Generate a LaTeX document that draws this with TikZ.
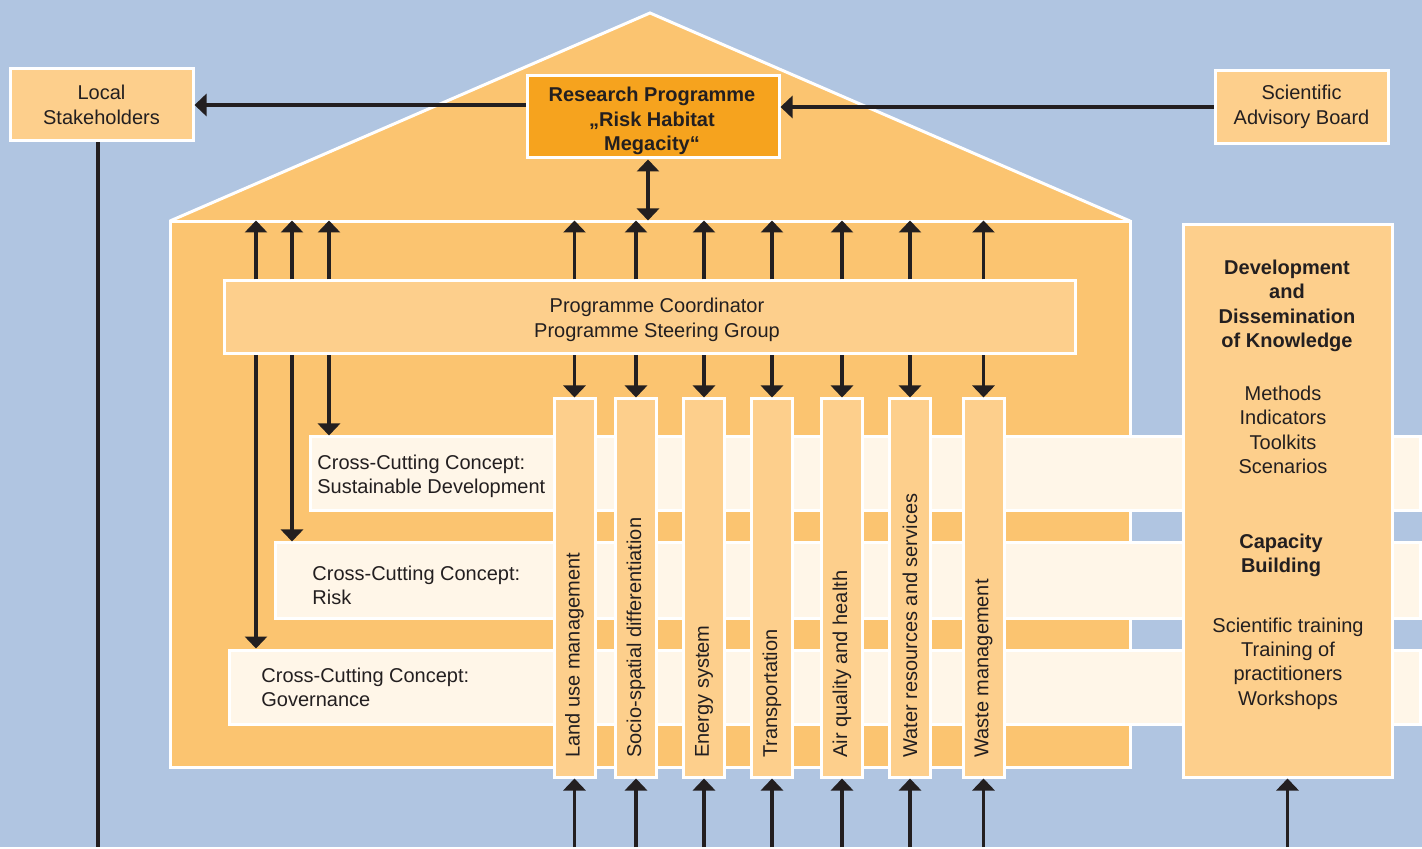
\documentclass[tikz,border=0pt]{standalone}
\usepackage{fontspec}
\setmainfont{Liberation Sans}
\usetikzlibrary{arrows.meta, positioning}
\definecolor{sky}{RGB}{176, 197, 225}
\definecolor{house}{RGB}{251, 196, 112}
\definecolor{panel}{RGB}{253, 207, 140}
\definecolor{headline}{RGB}{246, 163, 30}
\definecolor{band}{RGB}{255, 246, 232}
\definecolor{ink}{RGB}{35, 31, 32}

\begin{document}
\begin{tikzpicture}[x=0.5pt, y=-0.5pt,
            every node/.append style={font=\fontsize{10}{12.2}\selectfont, text=ink},
            heading/.style={font=\fontsize{10}{12.2}\selectfont\bfseries},
            whiteframe/.style={rectangle, draw=white, line width=1.5pt, inner sep=0pt},
            box/.style={whiteframe, fill=panel, align=center},
            crossband/.style={whiteframe, fill=band},
            pillar/.style={whiteframe, fill=panel, minimum width=20.5pt, minimum height=189pt},
            bandtext/.style={align=left, anchor=west, inner sep=0pt},
            arr/.style={-{Triangle[width=11pt,length=6pt]}, line width=1.6pt, draw=ink},
            dbl/.style={arr, {Triangle[width=11pt,length=6pt]}-{Triangle[width=11pt,length=6pt]}}
        ]
            \fill[sky] (0,0) rectangle (1422,847);
            \coordinate (floor) at (0,847);
            \coordinate (xl) at (98,0);
            \coordinate (xg) at (256,0);
            \coordinate (xr) at (292,0);
            \coordinate (xs) at (329,0);
            \coordinate (xm) at (648,0);

            \draw[white, line width=1.5pt, fill=house] (170,221) -- (650,13) -- (1130,221);
            \node[whiteframe, fill=house, minimum width=480pt, minimum height=272.5pt] (body) at (650,494.5) {};

            \node[box, fill=headline, minimum width=126pt, minimum height=41pt] (research) at (653,117) {};
            \node[heading, align=center] (research-t) at (652,121) {Research Programme\\„Risk Habitat\\Megacity“};
            \node[box, minimum width=91.5pt, minimum height=36pt] (local) at (101.5,105) {Local\\Stakeholders};
            \node[box, minimum width=86.5pt, minimum height=36.5pt] (board) at (1301.5,107) {Scientific\\Advisory Board};
            \node[box, minimum width=425.5pt, minimum height=36.5pt] (coord) at (649.5,317.5) {};
            \node[align=center] (coord-t) at (657,320) {Programme Coordinator\\Programme Steering Group};

            \draw[arr] (research.west |- local.east) -- (local.east);
            \draw[arr] (board.west) -- (research.east |- board.west);
            \draw[line width=1.6pt, ink] (local.south -| xl) -- (xl |- floor);
            \draw[dbl] (research.south -| xm) -- (body.north -| xm);

            \node[crossband, minimum width=555pt, minimum height=37pt] (sd) at (865,474) {};
            \node[crossband, minimum width=572.5pt, minimum height=37.5pt] (risk) at (847.5,580.5) {};
            \node[crossband, minimum width=595.5pt, minimum height=37pt] (gov) at (824.5,687) {};

            \node[bandtext] (sd-t) at (317,476.5) {Cross-Cutting Concept:\\Sustainable Development};
            \node[bandtext] (risk-t) at (312,585.5) {Cross-Cutting Concept:\\Risk};
            \node[bandtext] (gov-t) at (261,687.5) {Cross-Cutting Concept:\\Governance};

            \foreach \x/\b in {xg/gov, xr/risk, xs/sd} {
                \draw[arr] (coord.north -| \x) -- (body.north -| \x);
                \draw[arr] (coord.south -| \x) -- (\b.north -| \x);
            }

            \foreach \name/\x/\txt in {land/574.5/Land use management, socio/636/Socio-spatial differentiation, energy/704/Energy system, trans/772/Transportation, air/842/Air quality and health, water/910/Water resources and services, waste/983.5/Waste management} {
                \node[pillar] (\name) at (\x,588) {};
                \node[rotate=90, anchor=west, inner sep=0pt] (\name-t) at (\x,758) {\txt};
                \draw[arr] (coord.north -| \name) -- (body.north -| \name);
                \draw[arr] (coord.south -| \name) -- (\name.north);
                \draw[arr] (\name.south |- floor) -- (\name.south);
            }

            \node[box, minimum width=104.5pt, minimum height=276pt] (kb) at (1287.5,501) {};
            \node[heading, align=center] (kb-head) at (1287,306) {Development\\and\\Dissemination\\of Knowledge};
            \node[align=center] (kb-tools) at (1283,430) {Methods\\Indicators\\Toolkits\\Scenarios};
            \node[heading, align=center] (cb-head) at (1281,555.5) {Capacity\\Building};
            \node[align=center] (cb-train) at (1288,663.5) {Scientific training\\Training of\\practitioners\\Workshops};
            \draw[arr] (kb.south |- floor) -- (kb.south);
        \end{tikzpicture}
\end{document}
